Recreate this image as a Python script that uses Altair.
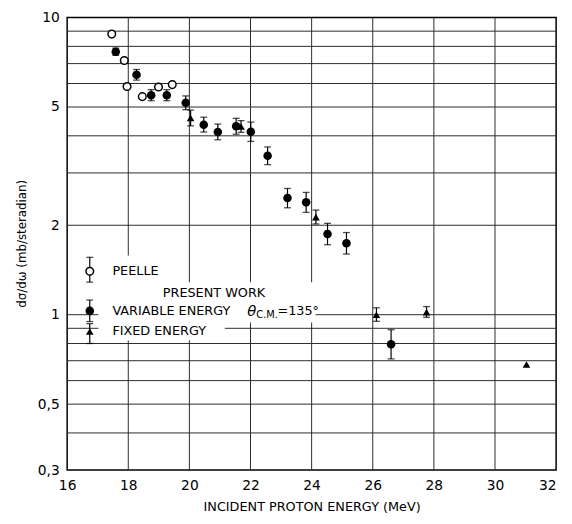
import altair as alt
import pandas as pd

# ---- data ----
peelle_e = [17.46, 17.87, 17.96, 18.46, 18.99, 19.44]
peelle_xs = [8.8, 7.17, 5.86, 5.42, 5.84, 5.95]

var_e = [17.59, 18.27, 18.75, 19.26, 19.88, 20.47, 20.93, 21.53, 22.01, 22.56,
         23.21, 23.82, 24.52, 25.14, 26.6]
var_xs = [7.67, 6.42, 5.48, 5.48, 5.17, 4.36, 4.12, 4.31, 4.13, 3.43,
          2.47, 2.39, 1.87, 1.74, 0.795]
var_lo = [7.46, 6.16, 5.25, 5.25, 4.90, 4.12, 3.88, 4.05, 3.83, 3.20,
          2.29, 2.21, 1.72, 1.60, 0.71]
var_hi = [7.89, 6.69, 5.72, 5.72, 5.45, 4.62, 4.38, 4.58, 4.45, 3.67,
          2.66, 2.58, 2.03, 1.89, 0.89]

fix_e = [20.04, 21.69, 24.14, 26.12, 27.76, 31.03]
fix_xs = [4.59, 4.30, 2.13, 1.00, 1.02, 0.68]
fix_lo = [4.32, 4.11, 2.02, 0.95, 0.98, None]
fix_hi = [4.88, 4.50, 2.25, 1.055, 1.065, None]

x_ticks = [16, 18, 20, 22, 24, 26, 28, 30, 32]
y_grid = [0.3, 0.4, 0.5, 0.6, 0.7, 0.8, 0.9, 1, 2, 3, 4, 5, 6, 7, 8, 9, 10]
y_labels = {10: "10", 5: "5", 2: "2", 1: "1", 0.5: "0,5", 0.3: "0,3"}

# legend content
leg_x = 16.74
leg_y = [1.40, 1.03, 0.878]
leg_lo = [1.287, 0.948, 0.80]
leg_hi = [1.56, 1.12, 0.933]

FONT = "DejaVu Sans"

peelle = pd.DataFrame({"E": peelle_e, "xs": peelle_xs})
var = pd.DataFrame({"E": var_e, "xs": var_xs, "lo": var_lo, "hi": var_hi})
fix = pd.DataFrame({"E": fix_e, "xs": fix_xs, "lo": fix_lo, "hi": fix_hi})
fix_err = fix.dropna()
err = pd.concat([var[["E", "lo", "hi"]], fix_err[["E", "lo", "hi"]]], ignore_index=True)

label_expr = " : ".join(
    f"datum.value == {k} ? '{v}'" for k, v in y_labels.items()
) + " : ''"

xscale = alt.Scale(domain=[16, 32], nice=False, zero=False)
yscale = alt.Scale(type="log", domain=[0.3, 10], nice=False)

xaxis = alt.Axis(values=x_ticks, title="INCIDENT PROTON ENERGY (MeV)",
                 grid=False, ticks=False, domain=False, labelPadding=9,
                 titlePadding=8, labelFontSize=14, titleFontSize=13,
                 labelFlush=False,
                 labelAlign=alt.condition("datum.value == 32",
                                          alt.value("right"),
                                          alt.value("center")))
yaxis = alt.Axis(values=y_grid, labelExpr=label_expr,
                 title="dσ/dω  (mb/steradian)", grid=False, ticks=False,
                 domain=False, labelPadding=8, labelFontSize=14,
                 titleFontSize=12, titleAngle=270, titleX=-46,
                 titleY=229, titleAlign="center",
                 titleBaseline="middle", labelFlush=False)


def X(field):
    return alt.X(field, type="quantitative", scale=xscale, axis=xaxis)


def Y(field):
    return alt.Y(field, type="quantitative", scale=yscale, axis=yaxis)


GRID = "#2a2a2a"
vgrid = pd.DataFrame({"E": x_ticks[1:-1]})
hgrid = pd.DataFrame({"xs": y_grid[1:-1]})
vgrid_layer = alt.Chart(vgrid).mark_rule(color=GRID, strokeWidth=1).encode(x=X("E"))
hgrid_layer = alt.Chart(hgrid).mark_rule(color=GRID, strokeWidth=1).encode(y=Y("xs"))

# white boxes behind legend text (interrupting grid lines as in the original)
boxes = pd.DataFrame({
    "E": [17.03, 17.03, 17.03],
    "E2": [19.77, 24.13, 21.16],
    "xs": [1.582, 1.287, 0.941],
    "xs2": [0.82, 0.941, 0.82],
})
box_layer = alt.Chart(boxes).mark_rect(color="white").encode(
    x=X("E"), x2=alt.X2("E2"), y=Y("xs"), y2=alt.Y2("xs2"))

rule_layer = alt.Chart(err).mark_rule(color="black", strokeWidth=1.2).encode(
    x=X("E"), y=Y("lo"), y2=alt.Y2("hi"))
cap_lo = alt.Chart(err).mark_tick(orient="horizontal", size=7, thickness=1.3,
                                  color="black").encode(x=X("E"), y=Y("lo"))
cap_hi = alt.Chart(err).mark_tick(orient="horizontal", size=7, thickness=1.3,
                                  color="black").encode(x=X("E"), y=Y("hi"))

open_layer = alt.Chart(peelle).mark_point(
    shape="circle", filled=False, size=60, strokeWidth=1.5, color="black",
    fill="white", opacity=1).encode(x=X("E"), y=Y("xs"))
filled_layer = alt.Chart(var).mark_point(
    shape="circle", filled=True, size=75, color="black", opacity=1).encode(
    x=X("E"), y=Y("xs"))
tri_layer = alt.Chart(fix).mark_point(
    shape="triangle-up", filled=True, size=60, color="black", opacity=1).encode(
    x=X("E"), y=Y("xs"))

# legend symbols
leg = pd.DataFrame({"E": [leg_x] * 3, "xs": leg_y, "lo": leg_lo, "hi": leg_hi})
leg_rule = alt.Chart(leg).mark_rule(color="black", strokeWidth=1.2).encode(
    x=X("E"), y=Y("lo"), y2=alt.Y2("hi"))
leg_cap_lo = alt.Chart(leg).mark_tick(orient="horizontal", size=7, thickness=1.3,
                                      color="black").encode(x=X("E"), y=Y("lo"))
leg_cap_hi = alt.Chart(leg).mark_tick(orient="horizontal", size=7, thickness=1.3,
                                      color="black").encode(x=X("E"), y=Y("hi"))
leg_open = alt.Chart(leg.iloc[[0]]).mark_point(
    shape="circle", filled=False, size=60, strokeWidth=1.5, color="black",
    fill="white", opacity=1).encode(x=X("E"), y=Y("xs"))
leg_filled = alt.Chart(leg.iloc[[1]]).mark_point(
    shape="circle", filled=True, size=75, color="black", opacity=1).encode(
    x=X("E"), y=Y("xs"))
leg_tri = alt.Chart(leg.iloc[[2]]).mark_point(
    shape="triangle-up", filled=True, size=60, color="black", opacity=1).encode(
    x=X("E"), y=Y("xs"))

texts = pd.DataFrame({
    "E": [17.48, 19.13, 17.48, 17.48],
    "xs": [1.40, 1.18, 1.03, 0.878],
    "t": ["PEELLE", "PRESENT WORK", "VARIABLE ENERGY", "FIXED ENERGY"],
})
text_layer = alt.Chart(texts).mark_text(
    align="left", baseline="middle", font=FONT, fontSize=13, color="black").encode(
    x=X("E"), y=Y("xs"), text="t:N")

theta = pd.DataFrame({"E": [21.89], "xs": [1.03], "t": ["θ"]})
theta_layer = alt.Chart(theta).mark_text(
    align="left", baseline="middle", font=FONT, fontSize=15, fontStyle="italic",
    color="black").encode(x=X("E"), y=Y("xs"), text="t:N")
cm = pd.DataFrame({"E": [22.19], "xs": [1.03], "t": ["C.M."]})
cm_layer = alt.Chart(cm).mark_text(
    align="left", baseline="middle", font=FONT, fontSize=10, dy=4,
    color="black").encode(x=X("E"), y=Y("xs"), text="t:N")
ang = pd.DataFrame({"E": [22.88], "xs": [1.03], "t": ["=135°"]})
ang_layer = alt.Chart(ang).mark_text(
    align="left", baseline="middle", font=FONT, fontSize=13,
    color="black").encode(x=X("E"), y=Y("xs"), text="t:N")

chart = alt.layer(
    vgrid_layer, hgrid_layer, box_layer, rule_layer, cap_lo, cap_hi,
    open_layer, filled_layer, tri_layer,
    leg_rule, leg_cap_lo, leg_cap_hi, leg_open, leg_filled, leg_tri,
    text_layer, theta_layer, cm_layer, ang_layer,
).properties(
    width=496, height=459,
    autosize=alt.AutoSizeParams(type="none"),
    padding={"left": 60, "top": 6, "right": 8, "bottom": 51},
    background="white",
).configure_view(
    stroke="black", strokeWidth=1.5,
).configure_axis(
    labelFont=FONT, titleFont=FONT, labelColor="black", titleColor="black",
    titleFontWeight="normal",
)

chart.save("out.html", embed_options={"renderer": "svg", "actions": False})
